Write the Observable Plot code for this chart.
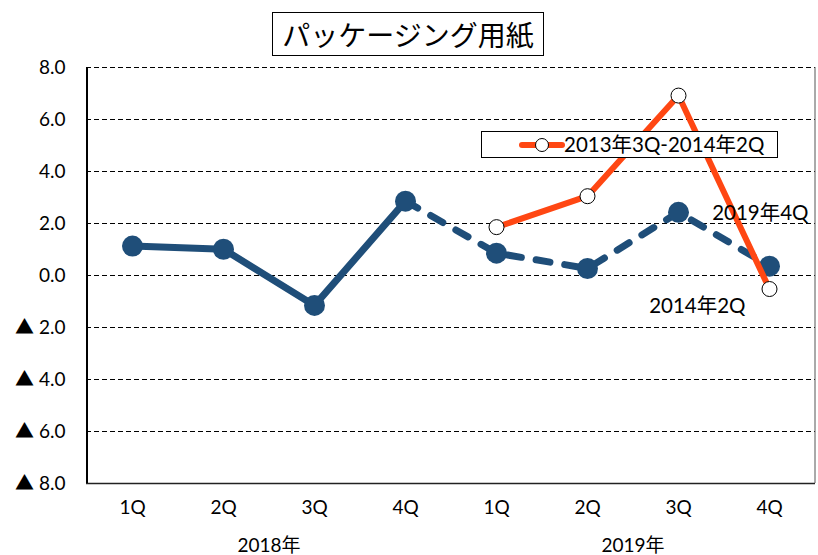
<!DOCTYPE html>
<html>
<head>
<meta charset="utf-8">
<script src="https://cdn.jsdelivr.net/npm/d3@7"></script>
<script src="https://cdn.jsdelivr.net/npm/@observablehq/plot@0.6"></script>
<style>
  html, body { margin: 0; padding: 0; background: #fff; }
  #wrap { position: relative; width: 818px; height: 555px; font-family: Lato, "Noto Sans CJK JP", sans-serif; }
  #title { position: absolute; left: 272px; top: 12px; width: 270px; height: 42px; border: 1.5px solid #000;
           font-family: "Noto Sans CJK JP", sans-serif; font-size: 28px; line-height: 42px; text-align: center; background: #fff; }
  #legend { position: absolute; left: 481px; top: 131px; width: 295px; height: 25px; border: 1px solid #000; background: #fff;
            font-size: 20.5px; line-height: 25px; white-space: nowrap; }
  #legend svg { position: absolute; left: 36px; top: 2px; }
  #legend span { position: absolute; left: 82px; top: 0; }
</style>
</head>
<body>
<div id="wrap">
  <div id="chart"></div>
  <div id="title">パッケージング用紙</div>
  <div id="legend"><svg width="48" height="22"><line x1="4" y1="11" x2="44" y2="11" stroke="#ff4713" stroke-width="6" stroke-linecap="round"/><circle cx="24" cy="11" r="6.5" fill="#fff" stroke="#000" stroke-width="1"/></svg><span>2013年3Q-2014年2Q</span></div>
</div>
<script>
const years = ["2018年", "2019年"];
const quarters = ["1Q", "2Q", "3Q", "4Q"];
const blueValues = [1.13, 1.01, -1.15, 2.86, 0.86, 0.27, 2.43, 0.36];
const orangeValues = [1.86, 3.05, 6.92, -0.52];
const yTicks = [8, 6, 4, 2, 0, -2, -4, -6, -8];
const blueLabel = "2019年4Q";
const orangeLabel = "2014年2Q";
const orangeSeriesName = "2013年3Q-2014年2Q";

const keys = [];
years.forEach(y => quarters.forEach(q => keys.push(y + q)));
const blue = keys.map((k, i) => ({k, v: blueValues[i]}));
const orange = quarters.map((q, i) => ({k: years[1] + q, v: orangeValues[i]}));
const qOf = k => k.slice(-2);

const blue1 = blue.slice(0, 4);
const blue2 = blue.slice(3);
const blueColor = "#1f4e79";
const orangeColor = "#ff4713";

const yLabel = v => (v < 0 ? "▲ " : "") + Math.abs(v).toFixed(1);

const chart = Plot.plot({
  width: 818,
  height: 555,
  marginLeft: 86,
  marginRight: 3,
  marginTop: 67,
  marginBottom: 72,
  style: {fontFamily: 'Lato, "Noto Sans CJK JP", sans-serif', fontSize: "19px", color: "#000", background: "transparent"},
  x: {type: "point", domain: keys, padding: 0.5, label: null, tickSize: 0, tickPadding: 17, tickFormat: qOf},
  y: {domain: [-8, 8], ticks: yTicks, label: null, tickSize: 0, tickPadding: 21, tickFormat: yLabel},
  marks: [
    Plot.ruleY(yTicks.filter(t => t > -8), {stroke: "#000", strokeWidth: 1, strokeDasharray: "5,3"}),
    Plot.ruleY([-8], {stroke: "#222", strokeWidth: 1.5}),
    Plot.ruleY([0], {x1: keys[0], x2: keys[keys.length - 1], stroke: "#000", strokeWidth: 1.3}),
    Plot.ruleX([keys[0]], {dx: -45.5, stroke: "#000", strokeWidth: 2}),
    Plot.ruleX([keys[keys.length - 1]], {dx: 45.5, stroke: "#555", strokeWidth: 1}),
    Plot.line(blue1, {x: "k", y: "v", stroke: blueColor, strokeWidth: 7, strokeLinecap: "round"}),
    Plot.line(blue2, {x: "k", y: "v", stroke: blueColor, strokeWidth: 7, strokeLinecap: "round", strokeDasharray: "14,15"}),
    Plot.dot(blue, {x: "k", y: "v", r: 10.5, fill: blueColor}),
    Plot.line(orange, {x: "k", y: "v", stroke: orangeColor, strokeWidth: 6}),
    Plot.dot(orange, {x: "k", y: "v", r: 7.5, fill: "#fff", stroke: "#000", strokeWidth: 1}),
    Plot.text([blue[7]], {x: "k", y: "v", text: () => blueLabel, textAnchor: "end", dx: 39, dy: -53, fontSize: 20.5}),
    Plot.text([orange[3]], {x: "k", y: "v", text: () => orangeLabel, textAnchor: "end", dx: -24, dy: 17, fontSize: 20.5}),
    Plot.text(years, {x: (d, i) => keys[i * 4 + 1], y: () => -8, text: d => d, dx: 45.5, dy: 62, fontSize: 19, clip: false})
  ]
});
document.getElementById("chart").appendChild(chart);
</script>
</body>
</html>
